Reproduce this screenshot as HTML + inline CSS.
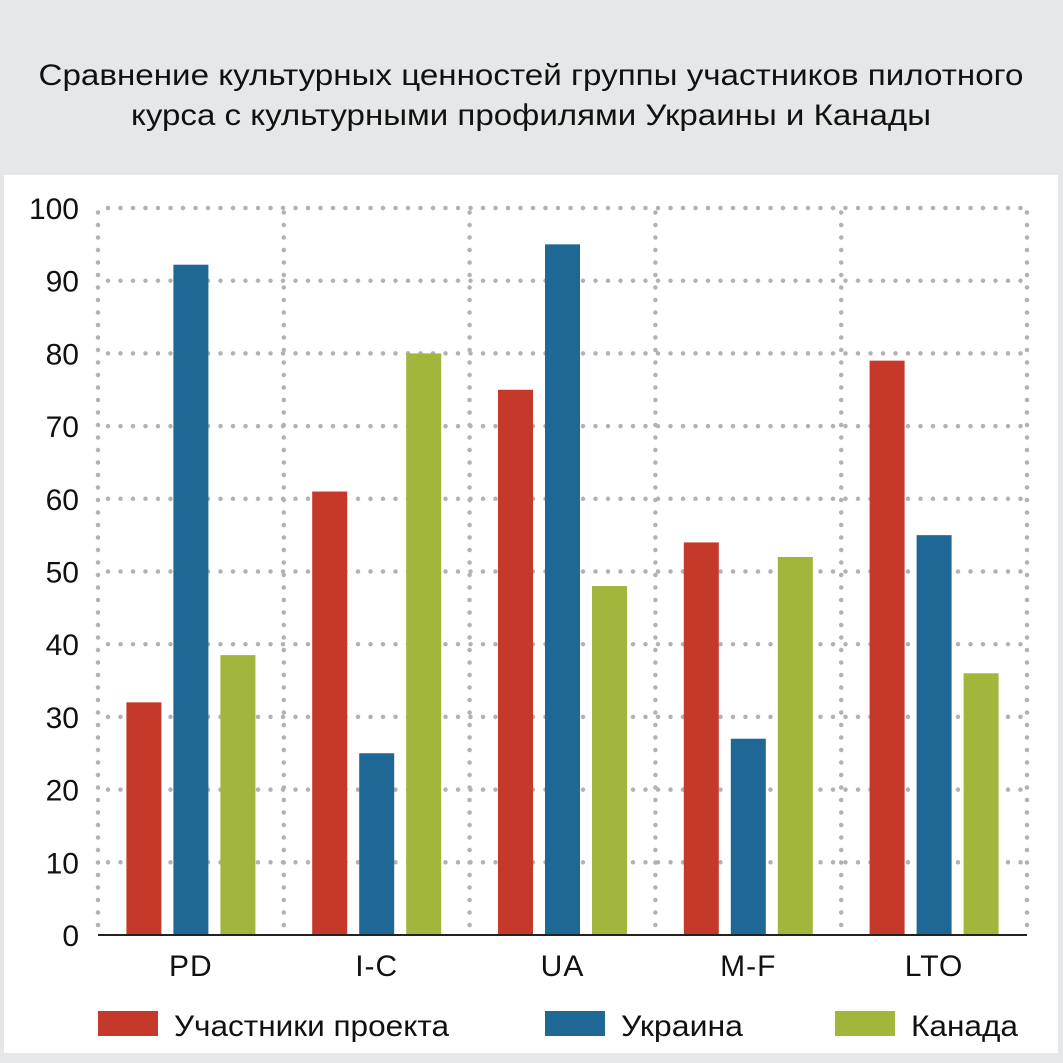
<!DOCTYPE html>
<html><head><meta charset="utf-8"><style>
html,body{margin:0;padding:0;background:#e6e7e8;}
svg{display:block;font-family:"Liberation Sans","DejaVu Sans",sans-serif;}
</style></head><body>
<svg id="chart" width="1063" height="1063" xmlns="http://www.w3.org/2000/svg">
<rect x="0" y="0" width="1063" height="1063" fill="#e6e7e8"/>
<g font-size="30" fill="#111" text-anchor="middle">
<text x="531" y="85" textLength="985" lengthAdjust="spacingAndGlyphs">Сравнение культурных ценностей группы участников пилотного</text>
<text x="531" y="125" textLength="800" lengthAdjust="spacingAndGlyphs">курса с культурными профилями Украины и Канады</text>
</g>
<rect x="4" y="175" width="1054" height="878" fill="#fff"/>
<g id="grid"></g>
<g id="bars"></g>
<g id="axes"></g>
<g id="legend"></g>
</svg>
<script>
const categories = ["PD","I-C","UA","M-F","LTO"];
const seriesNames = ["Участники проекта","Украина","Канада"];
const participants = [32,61,75,54,79];
const ukraine = [92.2,25,95,27,55];
const canada = [38.5,80,48,52,36];
const yTicks = [0,10,20,30,40,50,60,70,80,90,100];
const colors = ["#c4392a","#1f6795","#a1b63b"];
const series = [participants, ukraine, canada];

const NS="http://www.w3.org/2000/svg";
const X0=98, X1=1027, Y0=935, Y1=208;
const groupW=(X1-X0)/categories.length;
const y = v => Y0 - (v/100)*(Y0-Y1);
const xc = i => X0 + groupW*(i+0.5);
function mk(tag, attrs, parent){const e=document.createElementNS(NS,tag);for(const k in attrs)e.setAttribute(k,attrs[k]);parent.appendChild(e);return e;}
const grid=document.getElementById('grid'), bars=document.getElementById('bars'), axes=document.getElementById('axes'), legend=document.getElementById('legend');

yTicks.forEach(t=>{
  if(t>0){
    const l=mk('line',{x1:X0+10,x2:X1,y1:y(t),y2:y(t),stroke:'#b0b2b5','stroke-width':4.5,'stroke-linecap':'round','stroke-dasharray':'0 12.5'},grid);
    
    
  }
  const tx=mk('text',{x:79,y:y(t)+11,'text-anchor':'end','font-size':30,fill:'#111'},axes);
  tx.textContent=t;
  
  
});
for(let i=0;i<=categories.length;i++){
  const gx=X0+groupW*i;
  const l=mk('line',{x1:gx,x2:gx,y1:Y0-10,y2:Y1,stroke:'#b0b2b5','stroke-width':4.5,'stroke-linecap':'round','stroke-dasharray':'0 12.5'},grid);
  
  
}
categories.forEach((c,i)=>{
  series.forEach((s,j)=>{
    const bx=xc(i)+(j-1)*47-17.5;
    const r=mk('rect',{x:bx,y:y(s[i]),width:35,height:Y0-y(s[i]),fill:colors[j]},bars);
    
    
  });
  const tx=mk('text',{x:xc(i),y:976,'text-anchor':'middle','font-size':30,fill:'#111','letter-spacing':1},axes);
  tx.textContent=c;
  
  
});
const ax=mk('line',{x1:X0,x2:X1,y1:Y0,y2:Y0,stroke:'#222','stroke-width':2},axes);



const legX=[98,545,835];
const legW=[275,122,107];
seriesNames.forEach((n,j)=>{
  const g=mk('g',{},legend);
  
  
  mk('rect',{x:legX[j],y:1011,width:60,height:25,fill:colors[j]},g);
  const t=mk('text',{x:legX[j]+76,y:1036,'font-size':30,fill:'#111',textLength:legW[j],lengthAdjust:'spacingAndGlyphs'},g);
  t.textContent=n;
});
</script>
</body></html>
